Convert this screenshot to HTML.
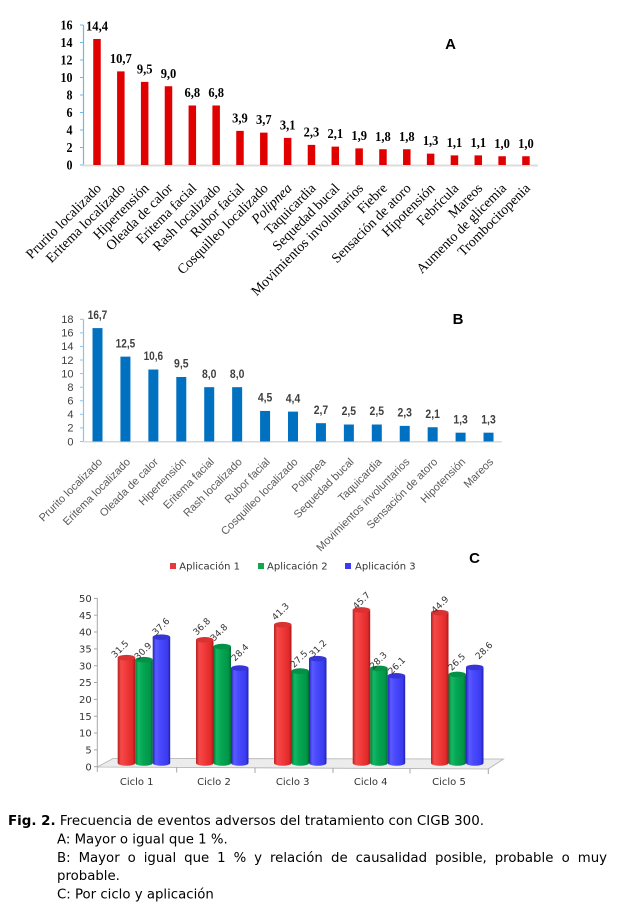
<!DOCTYPE html>
<html><head><meta charset="utf-8"><style>
html,body{margin:0;padding:0;background:#fff;}
svg{display:block;}
.ya{font-family:"Liberation Serif",serif;font-weight:bold;font-size:14px;fill:#000;}
.xa{font-family:"Liberation Serif",serif;font-size:14px;fill:#000;}
.yb{font-family:"Liberation Sans",sans-serif;font-size:11px;fill:#404040;}
.vb{font-family:"Liberation Sans",sans-serif;font-size:11.5px;font-weight:bold;fill:#404040;}
.xb{font-family:"Liberation Sans",sans-serif;font-size:11px;fill:#595959;}
.c{font-family:"DejaVu Sans",sans-serif;font-size:10px;fill:#333;}
.vc{font-family:"DejaVu Sans",sans-serif;font-size:9px;fill:#333;}
.ttl{font-family:"Liberation Sans",sans-serif;font-weight:bold;font-size:15px;fill:#000;}
.cap{font-family:"DejaVu Sans",sans-serif;font-size:13.3px;fill:#000;}
</style></head><body>
<svg width="617" height="914" viewBox="0 0 617 914" xmlns="http://www.w3.org/2000/svg">
<defs>
<linearGradient id="gr" x1="0" x2="1" y1="0" y2="0">
<stop offset="0" stop-color="#b81e1e"/><stop offset="0.18" stop-color="#f24a4a"/><stop offset="0.45" stop-color="#f23c3c"/><stop offset="0.85" stop-color="#e02a2a"/><stop offset="1" stop-color="#a81818"/></linearGradient>
<linearGradient id="gg" x1="0" x2="1" y1="0" y2="0">
<stop offset="0" stop-color="#007a38"/><stop offset="0.18" stop-color="#14b864"/><stop offset="0.45" stop-color="#05a653"/><stop offset="0.85" stop-color="#009648"/><stop offset="1" stop-color="#006a30"/></linearGradient>
<linearGradient id="gb" x1="0" x2="1" y1="0" y2="0">
<stop offset="0" stop-color="#2424b8"/><stop offset="0.18" stop-color="#5a5aff"/><stop offset="0.45" stop-color="#4848fc"/><stop offset="0.85" stop-color="#3a3aee"/><stop offset="1" stop-color="#2020a8"/></linearGradient>
</defs>
<rect width="617" height="914" fill="#fff"/>

<!-- ============ CHART A ============ -->
<g>
<line x1="83.5" y1="25" x2="83.5" y2="165" stroke="#6fb7e6" stroke-width="1.2"/>
<g stroke="#6fb7e6" stroke-width="1">
<line x1="80" y1="25" x2="83.5" y2="25"/><line x1="80" y1="42.5" x2="83.5" y2="42.5"/><line x1="80" y1="60" x2="83.5" y2="60"/><line x1="80" y1="77.5" x2="83.5" y2="77.5"/><line x1="80" y1="95" x2="83.5" y2="95"/><line x1="80" y1="112.5" x2="83.5" y2="112.5"/><line x1="80" y1="130" x2="83.5" y2="130"/><line x1="80" y1="147.5" x2="83.5" y2="147.5"/><line x1="80" y1="165" x2="83.5" y2="165"/>
</g>
<line x1="83" y1="165.5" x2="538" y2="165.5" stroke="#dcdcdc" stroke-width="2"/>
<g class="ya" text-anchor="end">
<text x="72.5" y="29.7" textLength="12" lengthAdjust="spacingAndGlyphs">16</text>
<text x="72.5" y="47.2" textLength="12" lengthAdjust="spacingAndGlyphs">14</text>
<text x="72.5" y="64.7" textLength="12" lengthAdjust="spacingAndGlyphs">12</text>
<text x="72.5" y="82.2" textLength="12" lengthAdjust="spacingAndGlyphs">10</text>
<text x="72.5" y="99.7" textLength="6" lengthAdjust="spacingAndGlyphs">8</text>
<text x="72.5" y="117.2" textLength="6" lengthAdjust="spacingAndGlyphs">6</text>
<text x="72.5" y="134.7" textLength="6" lengthAdjust="spacingAndGlyphs">4</text>
<text x="72.5" y="152.2" textLength="6" lengthAdjust="spacingAndGlyphs">2</text>
<text x="72.5" y="169.7" textLength="6" lengthAdjust="spacingAndGlyphs">0</text>
</g>
<g fill="#e10000">
<rect x="93.25" y="39" width="7.5" height="126"/>
<rect x="117.08" y="71.38" width="7.5" height="93.62"/>
<rect x="140.91" y="81.88" width="7.5" height="83.12"/>
<rect x="164.74" y="86.25" width="7.5" height="78.75"/>
<rect x="188.57" y="105.5" width="7.5" height="59.5"/>
<rect x="212.4" y="105.5" width="7.5" height="59.5"/>
<rect x="236.23" y="130.88" width="7.5" height="34.12"/>
<rect x="260.06" y="132.63" width="7.5" height="32.37"/>
<rect x="283.89" y="137.88" width="7.5" height="27.12"/>
<rect x="307.72" y="144.88" width="7.5" height="20.12"/>
<rect x="331.55" y="146.63" width="7.5" height="18.37"/>
<rect x="355.38" y="148.38" width="7.5" height="16.62"/>
<rect x="379.21" y="149.25" width="7.5" height="15.75"/>
<rect x="403.04" y="149.25" width="7.5" height="15.75"/>
<rect x="426.87" y="153.63" width="7.5" height="11.37"/>
<rect x="450.7" y="155.38" width="7.5" height="9.62"/>
<rect x="474.53" y="155.38" width="7.5" height="9.62"/>
<rect x="498.36" y="156.25" width="7.5" height="8.75"/>
<rect x="522.19" y="156.25" width="7.5" height="8.75"/>
</g>
<g class="ya" text-anchor="middle">
<text x="97" y="30.5" textLength="22" lengthAdjust="spacingAndGlyphs">14,4</text>
<text x="120.83" y="62.9" textLength="22" lengthAdjust="spacingAndGlyphs">10,7</text>
<text x="144.66" y="73.4" textLength="15.6" lengthAdjust="spacingAndGlyphs">9,5</text>
<text x="168.49" y="77.8" textLength="15.6" lengthAdjust="spacingAndGlyphs">9,0</text>
<text x="192.32" y="97" textLength="15.6" lengthAdjust="spacingAndGlyphs">6,8</text>
<text x="216.15" y="97" textLength="15.6" lengthAdjust="spacingAndGlyphs">6,8</text>
<text x="239.98" y="122.4" textLength="15.6" lengthAdjust="spacingAndGlyphs">3,9</text>
<text x="263.81" y="124.1" textLength="15.6" lengthAdjust="spacingAndGlyphs">3,7</text>
<text x="287.64" y="129.4" textLength="15.6" lengthAdjust="spacingAndGlyphs">3,1</text>
<text x="311.47" y="136.4" textLength="15.6" lengthAdjust="spacingAndGlyphs">2,3</text>
<text x="335.3" y="138.1" textLength="15.6" lengthAdjust="spacingAndGlyphs">2,1</text>
<text x="359.13" y="139.9" textLength="15.6" lengthAdjust="spacingAndGlyphs">1,9</text>
<text x="382.96" y="140.8" textLength="15.6" lengthAdjust="spacingAndGlyphs">1,8</text>
<text x="406.79" y="140.8" textLength="15.6" lengthAdjust="spacingAndGlyphs">1,8</text>
<text x="430.62" y="145.1" textLength="15.6" lengthAdjust="spacingAndGlyphs">1,3</text>
<text x="454.45" y="146.9" textLength="15.6" lengthAdjust="spacingAndGlyphs">1,1</text>
<text x="478.28" y="146.9" textLength="15.6" lengthAdjust="spacingAndGlyphs">1,1</text>
<text x="502.11" y="147.8" textLength="15.6" lengthAdjust="spacingAndGlyphs">1,0</text>
<text x="525.94" y="147.8" textLength="15.6" lengthAdjust="spacingAndGlyphs">1,0</text>
</g>
<g class="xa" text-anchor="end">
<text transform="translate(102,189) rotate(-45)">Prurito localizado</text>
<text transform="translate(125.83,189) rotate(-45)">Eritema localizado</text>
<text transform="translate(149.66,189) rotate(-45)">Hipertensión</text>
<text transform="translate(173.49,189) rotate(-45)">Oleada de calor</text>
<text transform="translate(197.32,189) rotate(-45)">Eritema facial</text>
<text transform="translate(221.15,189) rotate(-45)">Rash localizado</text>
<text transform="translate(244.98,189) rotate(-45)">Rubor facial</text>
<text transform="translate(268.81,189) rotate(-45)">Cosquilleo localizado</text>
<text transform="translate(292.64,189) rotate(-45)" font-style="italic">Polipnea</text>
<text transform="translate(316.47,189) rotate(-45)">Taquicardia</text>
<text transform="translate(340.3,189) rotate(-45)">Sequedad bucal</text>
<text transform="translate(364.13,189) rotate(-45)">Movimientos involuntarios</text>
<text transform="translate(387.96,189) rotate(-45)">Fiebre</text>
<text transform="translate(411.79,189) rotate(-45)">Sensación de atoro</text>
<text transform="translate(435.62,189) rotate(-45)">Hipotensión</text>
<text transform="translate(459.45,189) rotate(-45)">Febrícula</text>
<text transform="translate(483.28,189) rotate(-45)">Mareos</text>
<text transform="translate(507.11,189) rotate(-45)">Aumento de glicemia</text>
<text transform="translate(530.94,189) rotate(-45)">Trombocitopenia</text>
</g>
<text class="ttl" x="450.5" y="49" text-anchor="middle">A</text>
</g>

<!-- ============ CHART B ============ -->
<g>
<line x1="83.5" y1="319.3" x2="83.5" y2="441.5" stroke="#8dc3e8" stroke-width="1.2"/>
<g stroke="#8dc3e8" stroke-width="1">
<line x1="80" y1="319.28" x2="83.5" y2="319.28"/><line x1="80" y1="332.86" x2="83.5" y2="332.86"/><line x1="80" y1="346.44" x2="83.5" y2="346.44"/><line x1="80" y1="360.02" x2="83.5" y2="360.02"/><line x1="80" y1="373.6" x2="83.5" y2="373.6"/><line x1="80" y1="387.18" x2="83.5" y2="387.18"/><line x1="80" y1="400.76" x2="83.5" y2="400.76"/><line x1="80" y1="414.34" x2="83.5" y2="414.34"/><line x1="80" y1="427.92" x2="83.5" y2="427.92"/><line x1="80" y1="441.5" x2="83.5" y2="441.5"/>
</g>
<line x1="83" y1="441.8" x2="502" y2="441.8" stroke="#d9d9d9" stroke-width="1.5"/>
<g class="yb" text-anchor="end">
<text x="73.5" y="323.1">18</text><text x="73.5" y="336.7">16</text><text x="73.5" y="350.2">14</text><text x="73.5" y="363.8">12</text><text x="73.5" y="377.4">10</text><text x="73.5" y="391">8</text><text x="73.5" y="404.6">6</text><text x="73.5" y="418.1">4</text><text x="73.5" y="431.7">2</text><text x="73.5" y="445.3">0</text>
</g>
<g fill="#0070c0">
<rect x="92.5" y="328.11" width="10" height="113.39"/>
<rect x="120.43" y="356.63" width="10" height="84.87"/>
<rect x="148.36" y="369.53" width="10" height="71.97"/>
<rect x="176.29" y="377" width="10" height="64.5"/>
<rect x="204.22" y="387.18" width="10" height="54.32"/>
<rect x="232.15" y="387.18" width="10" height="54.32"/>
<rect x="260.08" y="410.94" width="10" height="30.56"/>
<rect x="288.01" y="411.62" width="10" height="29.88"/>
<rect x="315.94" y="423.17" width="10" height="18.33"/>
<rect x="343.87" y="424.52" width="10" height="16.98"/>
<rect x="371.8" y="424.52" width="10" height="16.98"/>
<rect x="399.73" y="425.88" width="10" height="15.62"/>
<rect x="427.66" y="427.24" width="10" height="14.26"/>
<rect x="455.59" y="432.67" width="10" height="8.83"/>
<rect x="483.52" y="432.67" width="10" height="8.83"/>
</g>
<g class="vb" text-anchor="middle">
<text x="97.5" y="318.8" textLength="19.5" lengthAdjust="spacingAndGlyphs">16,7</text>
<text x="125.43" y="347.3" textLength="19.5" lengthAdjust="spacingAndGlyphs">12,5</text>
<text x="153.36" y="360.2" textLength="19.5" lengthAdjust="spacingAndGlyphs">10,6</text>
<text x="181.29" y="367.7" textLength="14.5" lengthAdjust="spacingAndGlyphs">9,5</text>
<text x="209.22" y="377.9" textLength="14.5" lengthAdjust="spacingAndGlyphs">8,0</text>
<text x="237.15" y="377.9" textLength="14.5" lengthAdjust="spacingAndGlyphs">8,0</text>
<text x="265.08" y="401.6" textLength="14.5" lengthAdjust="spacingAndGlyphs">4,5</text>
<text x="293.01" y="402.3" textLength="14.5" lengthAdjust="spacingAndGlyphs">4,4</text>
<text x="320.94" y="413.9" textLength="14.5" lengthAdjust="spacingAndGlyphs">2,7</text>
<text x="348.87" y="415.2" textLength="14.5" lengthAdjust="spacingAndGlyphs">2,5</text>
<text x="376.8" y="415.2" textLength="14.5" lengthAdjust="spacingAndGlyphs">2,5</text>
<text x="404.73" y="416.6" textLength="14.5" lengthAdjust="spacingAndGlyphs">2,3</text>
<text x="432.66" y="417.9" textLength="14.5" lengthAdjust="spacingAndGlyphs">2,1</text>
<text x="460.59" y="423.4" textLength="14.5" lengthAdjust="spacingAndGlyphs">1,3</text>
<text x="488.52" y="423.4" textLength="14.5" lengthAdjust="spacingAndGlyphs">1,3</text>
</g>
<g class="xb" text-anchor="end">
<text transform="translate(103,462.5) rotate(-45)">Prurito localizado</text>
<text transform="translate(130.93,462.5) rotate(-45)">Eritema localizado</text>
<text transform="translate(158.86,462.5) rotate(-45)">Oleada de calor</text>
<text transform="translate(186.79,462.5) rotate(-45)">Hipertensión</text>
<text transform="translate(214.72,462.5) rotate(-45)">Eritema facial</text>
<text transform="translate(242.65,462.5) rotate(-45)">Rash localizado</text>
<text transform="translate(270.58,462.5) rotate(-45)">Rubor facial</text>
<text transform="translate(298.51,462.5) rotate(-45)">Cosquilleo localizado</text>
<text transform="translate(326.44,462.5) rotate(-45)">Polipnea</text>
<text transform="translate(354.37,462.5) rotate(-45)">Sequedad bucal</text>
<text transform="translate(382.3,462.5) rotate(-45)">Taquicardia</text>
<text transform="translate(410.23,462.5) rotate(-45)">Movimientos involuntarios</text>
<text transform="translate(438.16,462.5) rotate(-45)">Sensación de atoro</text>
<text transform="translate(466.09,462.5) rotate(-45)">Hipotensión</text>
<text transform="translate(494.02,462.5) rotate(-45)">Mareos</text>
</g>
<text class="ttl" x="458" y="324" text-anchor="middle">B</text>
</g>

<!-- ============ CHART C ============ -->
<g>
<rect x="170" y="563" width="6" height="6" fill="#e8383d"/>
<text class="c" x="179.3" y="569.5">Aplicación 1</text>
<rect x="258" y="563" width="6" height="6" fill="#14a550"/>
<text class="c" x="267" y="569.5">Aplicación 2</text>
<rect x="345" y="563" width="6" height="6" fill="#3b3bf5"/>
<text class="c" x="355" y="569.5">Aplicación 3</text>
<text class="ttl" x="474.5" y="563" text-anchor="middle">C</text>

<g class="c" text-anchor="end" fill="#404040">
<text x="91.7" y="602">50</text><text x="91.7" y="618.8">45</text><text x="91.7" y="635.6">40</text><text x="91.7" y="652.5">35</text><text x="91.7" y="669.3">30</text><text x="91.7" y="686.1">25</text><text x="91.7" y="703">20</text><text x="91.7" y="719.8">15</text><text x="91.7" y="736.6">10</text><text x="91.7" y="753.5">5</text><text x="91.7" y="770.3">0</text>
</g>
<polygon points="97.3,767 113,758.5 503.5,759 488.3,769" fill="#ececec" stroke="#b0b0b0" stroke-width="0.8"/>
<line x1="97.3" y1="598" x2="97.3" y2="767" stroke="#a6a6a6" stroke-width="1"/>
<g stroke="#a6a6a6" stroke-width="1">
<line x1="94" y1="598.4" x2="97.3" y2="598.4"/><line x1="94" y1="615.2" x2="97.3" y2="615.2"/><line x1="94" y1="632" x2="97.3" y2="632"/><line x1="94" y1="648.9" x2="97.3" y2="648.9"/><line x1="94" y1="665.7" x2="97.3" y2="665.7"/><line x1="94" y1="682.5" x2="97.3" y2="682.5"/><line x1="94" y1="699.4" x2="97.3" y2="699.4"/><line x1="94" y1="716.2" x2="97.3" y2="716.2"/><line x1="94" y1="733" x2="97.3" y2="733"/><line x1="94" y1="749.9" x2="97.3" y2="749.9"/><line x1="94" y1="766.7" x2="97.3" y2="766.7"/>
<line x1="97.3" y1="767" x2="97.3" y2="772"/><line x1="176.7" y1="767.5" x2="176.7" y2="772.5"/><line x1="255" y1="768" x2="255" y2="773"/><line x1="333" y1="768" x2="333" y2="773"/><line x1="410" y1="768.5" x2="410" y2="773.5"/><line x1="488.3" y1="769" x2="488.3" y2="774"/>
</g>
<g class="c" text-anchor="middle">
<text x="136.7" y="785">Ciclo 1</text><text x="214" y="785">Ciclo 2</text><text x="292.7" y="785">Ciclo 3</text><text x="370.7" y="785">Ciclo 4</text><text x="449" y="785">Ciclo 5</text>
</g>

<!-- cylinders -->
<g>
<rect x="117.7" y="657.66" width="17.5" height="105.34" fill="url(#gr)"/><ellipse cx="126.45" cy="763" rx="8.75" ry="2.8" fill="url(#gr)"/><ellipse cx="126.45" cy="657.66" rx="8.75" ry="2.8" fill="#d83232"/>
<rect x="135.2" y="659.68" width="17.5" height="103.32" fill="url(#gg)"/><ellipse cx="143.95" cy="763" rx="8.75" ry="2.8" fill="url(#gg)"/><ellipse cx="143.95" cy="659.68" rx="8.75" ry="2.8" fill="#039145"/>
<rect x="152.7" y="637.16" width="17.5" height="125.84" fill="url(#gb)"/><ellipse cx="161.45" cy="763" rx="8.75" ry="2.8" fill="url(#gb)"/><ellipse cx="161.45" cy="637.16" rx="8.75" ry="2.8" fill="#3636d8"/>
<rect x="196" y="639.85" width="17.5" height="123.15" fill="url(#gr)"/><ellipse cx="204.75" cy="763" rx="8.75" ry="2.8" fill="url(#gr)"/><ellipse cx="204.75" cy="639.85" rx="8.75" ry="2.8" fill="#d83232"/>
<rect x="213.5" y="646.57" width="17.5" height="116.43" fill="url(#gg)"/><ellipse cx="222.25" cy="763" rx="8.75" ry="2.8" fill="url(#gg)"/><ellipse cx="222.25" cy="646.57" rx="8.75" ry="2.8" fill="#039145"/>
<rect x="231" y="668.08" width="17.5" height="94.92" fill="url(#gb)"/><ellipse cx="239.75" cy="763" rx="8.75" ry="2.8" fill="url(#gb)"/><ellipse cx="239.75" cy="668.08" rx="8.75" ry="2.8" fill="#3636d8"/>
<rect x="274" y="624.73" width="17.5" height="138.27" fill="url(#gr)"/><ellipse cx="282.75" cy="763" rx="8.75" ry="2.8" fill="url(#gr)"/><ellipse cx="282.75" cy="624.73" rx="8.75" ry="2.8" fill="#d83232"/>
<rect x="291.5" y="671.1" width="17.5" height="91.9" fill="url(#gg)"/><ellipse cx="300.25" cy="763" rx="8.75" ry="2.8" fill="url(#gg)"/><ellipse cx="300.25" cy="671.1" rx="8.75" ry="2.8" fill="#039145"/>
<rect x="309" y="658.67" width="17.5" height="104.33" fill="url(#gb)"/><ellipse cx="317.75" cy="763" rx="8.75" ry="2.8" fill="url(#gb)"/><ellipse cx="317.75" cy="658.67" rx="8.75" ry="2.8" fill="#3636d8"/>
<rect x="352.7" y="609.95" width="17.5" height="153.05" fill="url(#gr)"/><ellipse cx="361.45" cy="763" rx="8.75" ry="2.8" fill="url(#gr)"/><ellipse cx="361.45" cy="609.95" rx="8.75" ry="2.8" fill="#d83232"/>
<rect x="370.2" y="668.41" width="17.5" height="94.59" fill="url(#gg)"/><ellipse cx="378.95" cy="763" rx="8.75" ry="2.8" fill="url(#gg)"/><ellipse cx="378.95" cy="668.41" rx="8.75" ry="2.8" fill="#039145"/>
<rect x="387.7" y="675.8" width="17.5" height="87.2" fill="url(#gb)"/><ellipse cx="396.45" cy="763" rx="8.75" ry="2.8" fill="url(#gb)"/><ellipse cx="396.45" cy="675.8" rx="8.75" ry="2.8" fill="#3636d8"/>
<rect x="431" y="612.64" width="17.5" height="150.36" fill="url(#gr)"/><ellipse cx="439.75" cy="763" rx="8.75" ry="2.8" fill="url(#gr)"/><ellipse cx="439.75" cy="612.64" rx="8.75" ry="2.8" fill="#d83232"/>
<rect x="448.5" y="674.46" width="17.5" height="88.54" fill="url(#gg)"/><ellipse cx="457.25" cy="763" rx="8.75" ry="2.8" fill="url(#gg)"/><ellipse cx="457.25" cy="674.46" rx="8.75" ry="2.8" fill="#039145"/>
<rect x="466" y="667.4" width="17.5" height="95.6" fill="url(#gb)"/><ellipse cx="474.75" cy="763" rx="8.75" ry="2.8" fill="url(#gb)"/><ellipse cx="474.75" cy="667.4" rx="8.75" ry="2.8" fill="#3636d8"/>
</g>
<g class="vc" text-anchor="middle">
<text transform="translate(120,649) rotate(-45)" dy="3">31.5</text>
<text transform="translate(143,651) rotate(-45)" dy="3">30.9</text>
<text transform="translate(161,626.5) rotate(-45)" dy="3">37.6</text>
<text transform="translate(201.7,626.5) rotate(-45)" dy="3">36.8</text>
<text transform="translate(219,632.5) rotate(-45)" dy="3">34.8</text>
<text transform="translate(240,652.5) rotate(-45)" dy="3">28.4</text>
<text transform="translate(280.5,611.5) rotate(-45)" dy="3">41.3</text>
<text transform="translate(299,659) rotate(-45)" dy="3">27.5</text>
<text transform="translate(318,648.5) rotate(-45)" dy="3">31.2</text>
<text transform="translate(361.5,600.5) rotate(-45)" dy="3">45.7</text>
<text transform="translate(378.3,660.5) rotate(-45)" dy="3">28.3</text>
<text transform="translate(396.7,665.7) rotate(-45)" dy="3">26.1</text>
<text transform="translate(440,604.7) rotate(-45)" dy="3">44.9</text>
<text transform="translate(456.7,662) rotate(-45)" dy="3">26.5</text>
<text transform="translate(484,650.5) rotate(-45)" dy="3">28.6</text>
</g>
</g>

<!-- ============ CAPTION ============ -->
<g class="cap">
<text x="8" y="825" textLength="476" lengthAdjust="spacingAndGlyphs"><tspan font-weight="bold">Fig. 2.</tspan> Frecuencia de eventos adversos del tratamiento con CIGB 300.</text>
<text x="57" y="843.5">A: Mayor o igual que 1 %.</text>
<text y="862"><tspan x="57">B:</tspan><tspan x="78.57">Mayor</tspan><tspan x="127.64">o</tspan><tspan x="143.74">igual</tspan><tspan x="184.13">que</tspan><tspan x="217.15">1</tspan><tspan x="233.57">%</tspan><tspan x="254.17">y</tspan><tspan x="270">relación</tspan><tspan x="331.04">de</tspan><tspan x="355.63">causalidad</tspan><tspan x="435.01">posible,</tspan><tspan x="494.73">probable</tspan><tspan x="561.66">o</tspan><tspan x="577.76">muy</tspan></text>
<text x="57" y="880">probable.</text>
<text x="57" y="898.5">C: Por ciclo y aplicación</text>
</g>
</svg>
</body></html>
